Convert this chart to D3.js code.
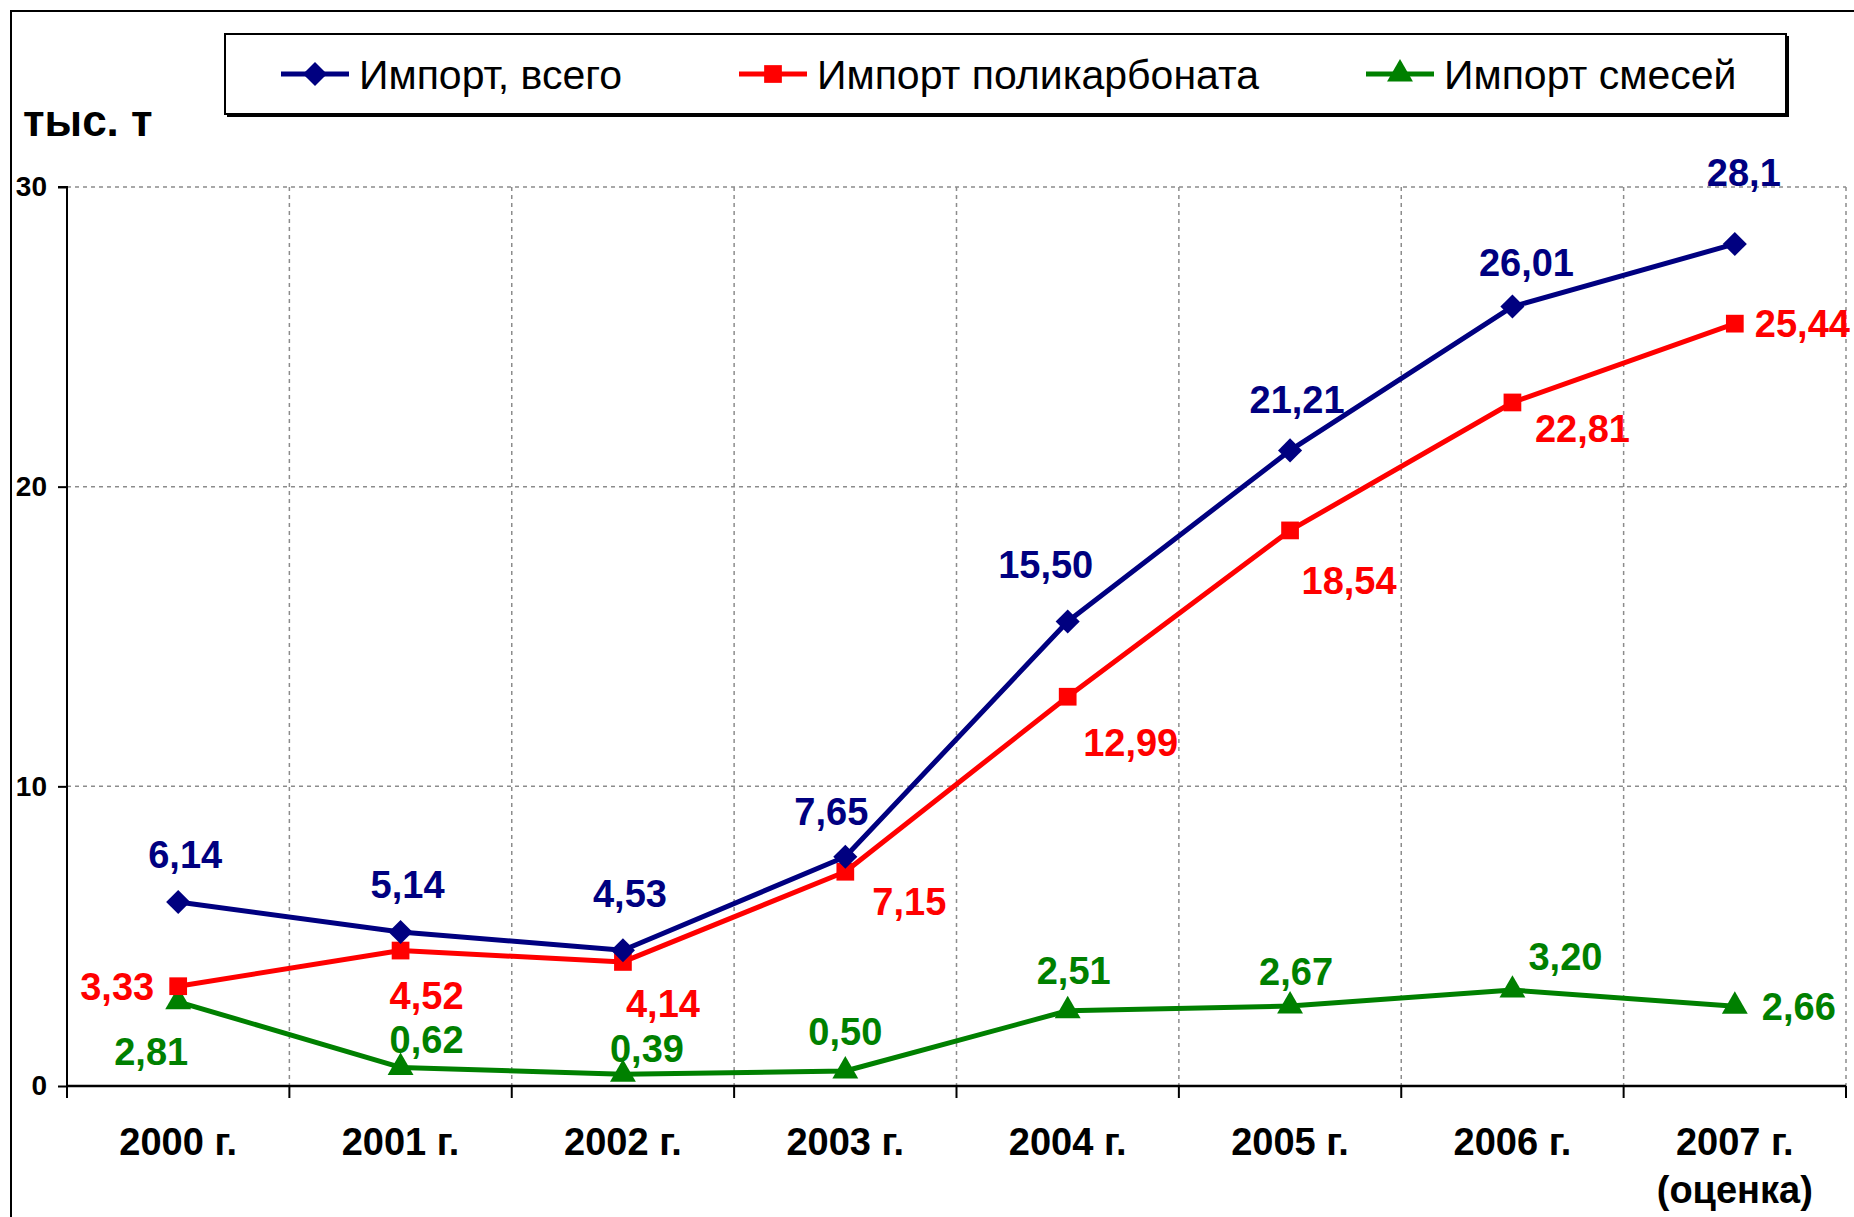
<!DOCTYPE html>
<html>
<head>
<meta charset="utf-8">
<script src="https://cdn.jsdelivr.net/npm/d3@7"></script>
<style>
  body { margin: 0; background: #fff; }
  svg { display: block; }
</style>
</head>
<body>
<div id="chart"></div>
<script>
// data
var years = ["2000 г.", "2001 г.", "2002 г.", "2003 г.", "2004 г.", "2005 г.", "2006 г.", "2007 г."];
var yearNotes = ["", "", "", "", "", "", "", "(оценка)"];
var totalImport = [6.14, 5.14, 4.53, 7.65, 15.50, 21.21, 26.01, 28.1];
var pcImport = [3.33, 4.52, 4.14, 7.15, 12.99, 18.54, 22.81, 25.44];
var blendImport = [2.81, 0.62, 0.39, 0.50, 2.51, 2.67, 3.20, 2.66];
var totalLabels = ["6,14", "5,14", "4,53", "7,65", "15,50", "21,21", "26,01", "28,1"];
var pcLabels = ["3,33", "4,52", "4,14", "7,15", "12,99", "18,54", "22,81", "25,44"];
var blendLabels = ["2,81", "0,62", "0,39", "0,50", "2,51", "2,67", "3,20", "2,66"];
var yTicks = [0, 10, 20, 30];
var seriesNames = ["Импорт, всего", "Импорт поликарбоната", "Импорт смесей"];
var unitLabel = "тыс. т";

// label placement next to each point: [dx, dy, anchor]
var totalPos = [[7,-48,"middle"],[7,-48,"middle"],[7,-57,"middle"],[-14,-45,"middle"],[-22,-57,"middle"],[7,-51,"middle"],[14,-44,"middle"],[9,-72,"middle"]];
var pcPos = [[-24,0,"end"],[26,45,"middle"],[40,41,"middle"],[64,30,"middle"],[63,46,"middle"],[59,50,"middle"],[70,26,"middle"],[20,0,"start"]];
var blendPos = [[-27,50,"middle"],[26,-28,"middle"],[24,-26,"middle"],[0,-40,"middle"],[6,-40,"middle"],[6,-35,"middle"],[53,-34,"middle"],[27,0,"start"]];

width = 1854;
height = 1217;
margin = {left: 67, right: 8, top: 187, bottom: 131};

colors = ["#000080", "#ff0000", "#008000"];
symbols = [d3.symbolDiamond2, d3.symbolSquare2, d3.symbolTriangle2];
symbolSizes = [370, 400, 480];
lineStroke = 5;

svg = d3.select("#chart").append("svg")
    .attr("width", width)
    .attr("height", height);

// outer frame
svg.append("rect")
    .attr("x", 11).attr("y", 11)
    .attr("width", width + 50).attr("height", height + 50)
    .attr("fill", "none")
    .attr("stroke", "#000")
    .attr("stroke-width", 2);

xScale = d3.scaleBand()
    .domain(years)
    .range([margin.left, width - margin.right])
    .paddingInner(0).paddingOuter(0);

yScale = d3.scaleLinear()
    .domain([0, 30])
    .range([height - margin.bottom, margin.top]);

var bw = xScale.bandwidth();
var xc = function (i) { return xScale(years[i]) + bw / 2; };

// grid
grid = svg.append("g").attr("class", "grid");
grid.selectAll(".hgrid")
    .data(yTicks.filter(function (d) { return d > 0; }))
    .enter().append("line")
    .attr("x1", margin.left).attr("x2", width - margin.right)
    .attr("y1", d => yScale(d)).attr("y2", d => yScale(d))
    .attr("stroke", "#8c8c8c").attr("stroke-width", 1.5)
    .attr("stroke-dasharray", "4,4");

var bounds = years.slice(1).map(d => xScale(d)).concat([width - margin.right]);
grid.selectAll(".vgrid")
    .data(bounds)
    .enter().append("line")
    .attr("x1", d => d).attr("x2", d => d)
    .attr("y1", yScale(30)).attr("y2", yScale(0))
    .attr("stroke", "#8c8c8c").attr("stroke-width", 1.5)
    .attr("stroke-dasharray", "4,4");

// axes
yAxis = d3.axisLeft(yScale).tickValues(yTicks).tickSize(9).tickPadding(11).tickFormat(d3.format("d"));
yAxisG = svg.append("g")
    .attr("transform", `translate(${margin.left},0)`)
    .call(yAxis);
yAxisG.select(".domain").attr("stroke", "#000").attr("stroke-width", 2).attr("d", `M-9,${yScale(30)}H0V${yScale(0)}`);
yAxisG.selectAll(".tick line").attr("stroke-width", 2);
yAxisG.selectAll(".tick text")
    .style("font-family", "Liberation Sans, Arial")
    .style("font-weight", "bold")
    .style("font-size", "28px")
    .attr("fill", "#000");

xAxisG = svg.append("g")
    .attr("transform", `translate(0,${yScale(0)})`);
xAxisG.append("line")
    .attr("x1", margin.left).attr("x2", width - margin.right)
    .attr("stroke", "#000").attr("stroke-width", 2.5);
xAxisG.selectAll(".xtick")
    .data([margin.left].concat(bounds))
    .enter().append("line")
    .attr("x1", d => d).attr("x2", d => d)
    .attr("y1", 0).attr("y2", 12)
    .attr("stroke", "#000").attr("stroke-width", 2);

xAxisG.selectAll(".xlabel")
    .data(years)
    .enter().append("text")
    .attr("x", (d, i) => xc(i))
    .attr("y", 69)
    .attr("text-anchor", "middle")
    .style("font-family", "Liberation Sans, Arial")
    .style("font-weight", "bold")
    .style("font-size", "38px")
    .text(d => d);

xAxisG.selectAll(".xnote")
    .data(yearNotes)
    .enter().append("text")
    .attr("x", (d, i) => xc(i))
    .attr("y", 117)
    .attr("text-anchor", "middle")
    .style("font-family", "Liberation Sans, Arial")
    .style("font-weight", "bold")
    .style("font-size", "38px")
    .text(d => d);

// unit label
svg.append("text")
    .attr("x", 23).attr("y", 136)
    .style("font-family", "Liberation Sans, Arial")
    .style("font-weight", "bold")
    .style("font-size", "44px")
    .text(unitLabel);

// series
var series = [
    {values: totalImport, labels: totalLabels, pos: totalPos},
    {values: pcImport, labels: pcLabels, pos: pcPos},
    {values: blendImport, labels: blendLabels, pos: blendPos}
];

line = d3.line()
    .x((d, i) => xc(i))
    .y(d => yScale(d));

lines = svg.append("g").attr("class", "lines");

series.slice().reverse().forEach(function (s, ri) {
    var k = series.length - 1 - ri;
    var g = lines.append("g");
    g.append("path")
        .attr("d", line(s.values))
        .attr("fill", "none")
        .attr("stroke", colors[k])
        .attr("stroke-width", lineStroke)
        .attr("stroke-linejoin", "round");
    g.selectAll("path.pt")
        .data(s.values).enter()
        .append("path")
        .attr("class", "pt")
        .attr("transform", (d, i) => `translate(${xc(i)},${yScale(d)})`)
        .attr("d", d3.symbol().type(symbols[k]).size(symbolSizes[k]))
        .attr("fill", colors[k]);
});

series.forEach(function (s, k) {
    svg.append("g").selectAll("text")
        .data(s.values).enter()
        .append("text")
        .attr("x", (d, i) => xc(i) + s.pos[i][0])
        .attr("y", (d, i) => yScale(d) + s.pos[i][1])
        .attr("dy", "0.36em")
        .attr("text-anchor", (d, i) => s.pos[i][2])
        .attr("fill", colors[k])
        .style("font-family", "Liberation Sans, Arial")
        .style("font-weight", "bold")
        .style("font-size", "38px")
        .text((d, i) => s.labels[i]);
});

// legend
legend = svg.append("g").attr("class", "legend");
legend.append("rect")
    .attr("x", 227).attr("y", 36)
    .attr("width", 1562).attr("height", 81)
    .attr("fill", "#000");
legend.append("rect")
    .attr("x", 225).attr("y", 34)
    .attr("width", 1561).attr("height", 80)
    .attr("fill", "#fff")
    .attr("stroke", "#000")
    .attr("stroke-width", 2);

var legendX = [281, 739, 1366];
seriesNames.forEach(function (name, k) {
    var lg = legend.append("g").attr("transform", `translate(${legendX[k]},74)`);
    lg.append("line")
        .attr("x1", 0).attr("x2", 68)
        .attr("stroke", colors[k]).attr("stroke-width", lineStroke);
    lg.append("path")
        .attr("transform", "translate(34,0)")
        .attr("d", d3.symbol().type(symbols[k]).size(symbolSizes[k]))
        .attr("fill", colors[k]);
    lg.append("text")
        .attr("x", 78)
        .attr("y", 0)
        .attr("dy", "0.36em")
        .style("font-family", "Liberation Sans, Arial")
        .style("font-size", "41px")
        .text(name);
});
</script>
</body>
</html>
